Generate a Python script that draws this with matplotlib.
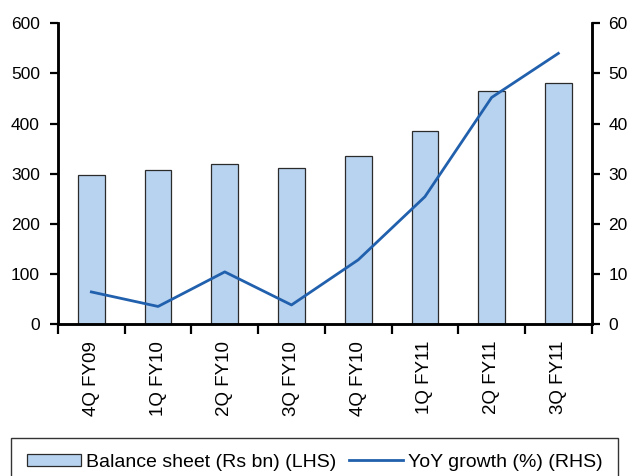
import numpy as np
import matplotlib.pyplot as plt
from matplotlib.ticker import FixedLocator, NullFormatter

quarters = ['4Q FY09', '1Q FY10', '2Q FY10', '3Q FY10', '4Q FY10', '1Q FY11', '2Q FY11', '3Q FY11']
balance_sheet = [297, 307, 319, 311, 335, 386, 465, 480]   # Rs bn, LHS
yoy_growth = [6.4, 3.5, 10.4, 3.8, 12.8, 25.4, 45.2, 54.0]  # %, RHS

BAR_COLOR = '#b8d3f0'
LINE_COLOR = '#2160ad'

plt.rcParams['font.family'] = ['Liberation Sans', 'DejaVu Sans']

fig = plt.figure(figsize=(6.32, 4.76), dpi=100)
ax = fig.add_axes([58 / 632, 1 - 324 / 476, (591.7 - 58) / 632, (324 - 23.3) / 476])
ax2 = ax.twinx()

x = np.arange(len(quarters))
bars = ax.bar(x, balance_sheet, width=0.4, color=BAR_COLOR, edgecolor='#2b2b2b',
              linewidth=0.9, label='Balance sheet (Rs bn) (LHS)', zorder=2)
line, = ax2.plot(x, yoy_growth, color=LINE_COLOR, linewidth=2.0,
                 label='YoY growth (%) (RHS)', zorder=3)

ax.set_xlim(-0.5, len(quarters) - 0.5)
ax.set_ylim(0, 600)
ax2.set_ylim(0, 60)
ax.set_yticks(range(0, 601, 100))
ax2.set_yticks(range(0, 61, 10))

# tick marks sit on the category boundaries, labels at the centres
ax.xaxis.set_major_locator(FixedLocator(np.arange(-0.5, len(quarters), 1.0)))
ax.xaxis.set_major_formatter(NullFormatter())
ax.xaxis.set_minor_locator(FixedLocator(x))
ax.set_xticklabels(quarters, minor=True, rotation=90, fontsize=13.5,
                   va='top', ha='center')
ax.tick_params(axis='x', which='major', direction='out', length=7, width=1.6)
ax.tick_params(axis='x', which='minor', length=0, pad=12)

for a in (ax, ax2):
    for side in ('left', 'right', 'bottom'):
        a.spines[side].set_linewidth(1.8)
    a.spines['top'].set_visible(False)
ax.tick_params(axis='y', direction='out', length=6, width=1.6, pad=7, labelsize=12.5)
ax2.tick_params(axis='y', direction='out', length=6, width=1.6, pad=6, labelsize=12.5)

leg = fig.legend([bars, line], [bars.get_label(), line.get_label()],
                 loc='upper left', bbox_to_anchor=(11 / 632, 1 - 438 / 476, 607 / 632, 0),
                 bbox_transform=fig.transFigure,
                 ncol=2, mode='expand', frameon=True, fancybox=False,
                 borderaxespad=0, borderpad=0.8, handlelength=2.8,
                 handleheight=0.6, handletextpad=0.25, columnspacing=1.2,
                 prop={'size': 14})
leg.get_frame().set_edgecolor('black')
leg.get_frame().set_linewidth(1.0)

fig.savefig('out.png', dpi=100)
